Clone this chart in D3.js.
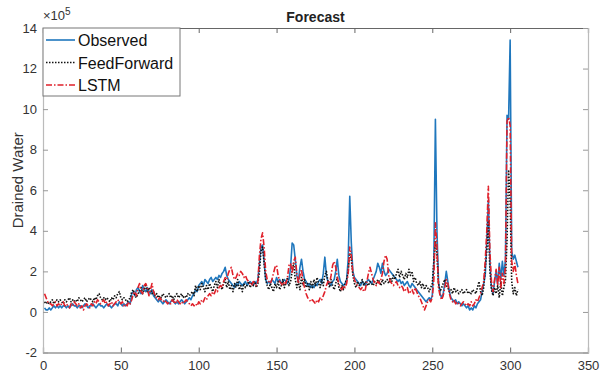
<!DOCTYPE html>
<html>
<head>
<meta charset="utf-8">
<script src="https://cdn.jsdelivr.net/npm/d3@7"></script>
<style>
  body { margin: 0; background: #fff; }
  svg { font-family: Arial, "Liberation Sans", sans-serif; }
</style>
</head>
<body>
<div id="chart"></div>
<script>
// values in units of 1e5, sample index 1..305
const observed = [
  0.2,0.1,0.1,0.2,0.1,0.2,0.3,0.2,0.3,0.2, 0.3,0.2,0.3,0.3,0.2,0.3,0.2,0.3,0.4,0.3,
  0.3,0.2,0.3,0.3,0.2,0.3,0.4,0.3,0.2,0.3, 0.3,0.4,0.3,0.2,0.3,0.4,0.3,0.3,0.2,0.3,
  0.4,0.3,0.3,0.2,0.3,0.4,0.4,0.3,0.5,0.4, 0.3,0.4,0.3,0.4,0.5,0.4,0.9,1.0,0.8,1.1,
  1.2,1.0,0.9,1.3,1.1,1.0,1.2,1.0,0.9,1.1, 0.8,0.7,0.6,0.5,0.6,0.5,0.4,0.5,0.6,0.5,
  0.4,0.5,0.6,0.5,0.4,0.5,0.4,0.5,0.6,0.5, 0.4,0.5,0.6,0.7,0.6,0.8,0.9,1.1,1.0,1.3,
  1.4,1.5,1.3,1.6,1.5,1.4,1.6,1.7,1.5,1.6, 1.7,1.6,1.8,1.7,1.9,2.0,2.2,1.8,1.6,1.5,
  1.4,1.3,1.2,1.4,1.3,1.5,1.4,1.3,1.4,1.5, 1.3,1.4,1.5,1.4,1.3,1.5,1.4,1.6,2.4,3.2,
  3.3,2.5,1.6,1.4,1.5,1.4,1.6,1.5,1.4,1.7, 1.5,1.6,1.4,1.5,1.6,1.5,1.4,1.6,2.2,3.4,
  3.3,2.6,1.8,1.5,2.2,2.6,2.0,1.6,1.5,1.3, 1.4,1.2,1.3,1.2,1.4,1.3,1.5,1.6,1.4,1.9,
  2.7,1.8,1.5,1.4,1.3,1.5,1.6,2.0,2.6,1.8, 1.5,1.4,1.3,1.4,1.6,2.6,5.7,3.4,2.0,1.7,
  1.6,1.5,1.4,1.3,1.5,1.4,1.3,1.5,1.6,1.5, 1.4,1.6,1.8,2.0,2.4,2.2,1.9,2.4,2.0,1.8,
  1.9,2.1,2.0,1.9,1.8,1.7,1.6,1.5,1.6,1.4, 1.5,1.3,1.4,1.5,1.3,1.2,1.4,1.3,1.2,1.1,
  1.0,0.9,0.8,0.7,0.6,0.5,0.6,0.7,0.6,0.8, 2.5,9.5,4.0,1.5,0.9,0.7,0.9,1.4,2.0,1.5,
  1.0,0.7,0.6,0.5,0.6,0.4,0.5,0.4,0.3,0.4, 0.3,0.2,0.3,0.1,0.2,0.1,0.3,0.2,0.4,0.5,
  0.6,1.0,1.4,1.8,3.5,5.5,2.5,1.2,0.9,1.5, 2.0,1.4,2.4,1.6,2.5,1.8,2.6,9.7,9.5,13.4,
  3.0,2.6,2.8,2.5,2.2
]
const feedForward = [
  0.5,0.4,0.5,0.4,0.5,0.6,0.4,0.5,0.6,0.5, 0.6,0.5,0.4,0.6,0.5,0.6,0.7,0.5,0.6,0.5,
  0.6,0.5,0.7,0.6,0.5,0.6,0.7,0.5,0.6,0.7, 0.6,0.5,0.7,0.6,0.8,0.9,0.7,0.6,0.7,0.6,
  0.7,0.6,0.5,0.7,0.6,0.8,0.7,0.9,1.0,0.7, 0.6,0.7,0.6,0.5,0.6,0.7,1.0,1.1,0.8,0.7,
  0.9,1.0,1.2,0.9,1.1,1.3,1.0,1.2,1.1,0.9, 1.0,0.8,0.9,0.7,0.8,0.7,0.9,0.8,0.7,0.8,
  0.9,0.7,0.8,0.6,0.8,0.9,0.7,0.8,0.9,0.7, 0.8,0.7,0.9,0.8,0.9,1.0,0.8,1.3,1.0,1.3,
  1.1,1.4,1.2,1.0,1.3,1.1,1.4,1.2,1.0,1.3, 1.5,1.2,1.6,1.3,1.1,1.4,1.6,1.2,1.5,1.1,
  1.3,1.0,1.4,1.2,1.6,1.1,1.3,1.0,1.4,1.2, 1.3,1.5,1.2,1.4,1.3,1.5,1.2,1.4,2.0,3.0,
  3.2,2.4,1.6,1.3,1.1,1.4,1.2,1.0,1.4,1.2, 1.5,1.1,1.3,1.6,1.2,1.4,1.7,1.3,1.5,2.0,
  2.4,1.6,1.2,1.5,1.1,1.7,1.3,1.6,1.2,1.4, 1.1,1.5,1.2,1.6,1.3,1.7,1.4,1.2,1.6,1.3,
  1.8,2.0,1.5,1.2,1.6,1.3,1.1,1.4,1.7,1.2, 1.0,1.3,1.1,1.4,1.6,2.0,2.9,2.6,1.8,1.4,
  1.2,1.5,1.3,1.4,1.6,1.3,1.5,1.4,1.3,1.5, 1.4,1.3,1.5,1.4,1.6,1.5,1.3,1.6,1.4,1.5,
  1.6,1.4,1.7,1.5,1.8,1.6,1.9,2.1,1.7,2.0, 1.8,1.6,1.9,1.7,2.1,1.8,2.0,1.5,1.7,1.4,
  1.3,1.5,1.2,1.4,1.1,1.3,1.2,1.0,1.2,1.4, 2.5,3.5,2.8,1.4,1.0,1.2,1.4,1.6,1.3,1.2,
  1.0,1.1,0.9,1.2,1.0,1.1,0.9,1.0,1.1,0.9, 1.0,1.1,0.9,1.0,0.9,1.1,1.0,0.9,1.2,1.5,
  1.0,0.8,1.2,2.2,3.0,4.5,2.0,1.1,0.8,1.2, 0.9,1.3,0.7,1.5,0.8,1.2,1.6,3.5,7.0,5.5,
  1.5,0.9,1.2,0.8,1.1
]
const lstm = [
  0.9,0.7,0.5,0.4,0.4,0.3,0.4,0.5,0.3,0.4, 0.3,0.4,0.5,0.3,0.4,0.3,0.2,0.4,0.3,0.5,
  0.4,0.3,0.4,0.2,0.3,0.1,0.3,0.4,0.3,0.2, 0.4,0.3,0.5,0.4,0.6,0.5,0.4,0.5,0.6,0.4,
  0.5,0.3,0.4,0.5,0.3,0.4,0.5,0.6,0.5,0.4, 0.5,0.3,0.4,0.3,0.5,0.4,0.6,0.9,1.0,0.8,
  1.2,1.4,1.0,0.9,1.3,1.4,1.2,0.8,1.1,1.4, 1.0,0.8,0.7,0.6,0.7,0.6,0.5,0.6,0.5,0.4,
  0.5,0.4,0.6,0.5,0.4,0.6,0.5,0.4,0.5,0.4, 0.5,0.6,0.5,0.4,0.3,0.4,0.3,0.4,0.3,0.5,
  0.4,0.6,0.5,0.7,0.6,0.8,0.9,0.8,1.0,0.9, 1.1,1.0,1.2,1.3,1.2,1.5,1.7,1.6,1.9,2.1,
  2.2,1.8,1.6,1.7,1.9,1.8,2.0,1.9,1.7,1.8, 1.6,1.5,1.4,1.3,1.5,1.4,1.3,1.5,2.8,3.6,
  3.9,3.2,2.0,1.6,1.5,1.4,1.6,1.9,2.2,2.3, 1.8,1.5,1.4,1.3,1.5,1.4,1.7,2.3,2.4,1.9,
  2.5,2.7,1.9,1.4,1.8,2.1,1.5,1.2,0.9,0.7, 0.6,0.5,0.6,0.5,0.4,0.6,0.5,0.7,0.6,0.8,
  1.0,1.3,1.5,1.4,1.8,2.3,2.5,2.2,1.7,1.4, 1.2,1.1,1.3,1.2,1.4,1.9,3.2,2.8,1.9,1.6,
  1.4,1.3,1.2,1.1,1.2,1.0,1.1,1.5,1.9,2.2, 1.9,1.6,1.4,1.3,1.5,1.4,1.6,1.9,2.5,2.8,
  2.6,1.8,1.5,1.4,1.3,1.4,1.5,1.3,1.2,1.3, 1.2,1.0,1.1,1.2,0.9,1.0,1.1,0.9,1.2,1.0,
  0.8,0.7,0.5,0.3,0.1,0.3,0.5,0.6,0.5,0.7, 1.6,4.4,3.2,1.2,0.8,0.6,0.8,1.2,1.6,1.4,
  0.9,0.6,0.5,0.6,0.4,0.5,0.4,0.3,0.4,0.5, 0.4,0.3,0.4,0.3,0.5,0.3,0.4,0.6,0.5,0.7,
  0.9,1.2,1.5,2.5,4.0,6.2,3.0,1.5,1.0,1.6, 2.1,1.3,2.2,1.2,1.9,1.4,2.3,9.4,9.6,9.2,
  2.5,2.0,2.4,1.8,1.4
]
const xTicks = [0, 50, 100, 150, 200, 250, 300, 350]
const yTicks = [-2, 0, 2, 4, 6, 8, 10, 12, 14]
const seriesNames = ['Observed', 'FeedForward', 'LSTM']

const W = 600, H = 378
const m = { left: 43, right: 588, top: 28, bottom: 352.5 }

const x = d3.scaleLinear().domain([0, 350]).range([m.left, m.right])
const y = d3.scaleLinear().domain([-2, 14]).range([m.bottom, m.top])

const svg = d3.select('#chart').append('svg')
  .attr('width', W).attr('height', H)

svg.append('defs').append('clipPath').attr('id', 'plot')
  .append('rect')
  .attr('x', m.left).attr('y', m.top)
  .attr('width', m.right - m.left).attr('height', m.bottom - m.top)

// axes (MATLAB style, ticks inside, box on)
const bottomAxis = svg.append('g')
  .attr('transform', `translate(0,${m.bottom})`)
  .call(d3.axisBottom(x).tickValues(xTicks).tickSize(-5).tickPadding(8))
const topAxis = svg.append('g')
  .attr('transform', `translate(0,${m.top})`)
  .call(d3.axisTop(x).tickValues(xTicks).tickSize(-5).tickFormat(''))
const leftAxis = svg.append('g')
  .attr('transform', `translate(${m.left},0)`)
  .call(d3.axisLeft(y).tickValues(yTicks).tickSize(-5).tickPadding(6))
const rightAxis = svg.append('g')
  .attr('transform', `translate(${m.right},0)`)
  .call(d3.axisRight(y).tickValues(yTicks).tickSize(-5).tickFormat(''))

;[bottomAxis, topAxis].forEach(g => {
  g.select('.domain').attr('stroke', '#666').attr('stroke-width', 1.2)
  g.selectAll('.tick line').attr('stroke', '#666')
})
;[leftAxis, rightAxis].forEach(g => {
  g.select('.domain').attr('stroke', '#bbb').attr('stroke-width', 1.2)
  g.selectAll('.tick line').attr('stroke', '#999')
})
svg.selectAll('.tick text')
  .attr('font-size', 13).attr('fill', '#333')
  .attr('font-family', 'Arial, "Liberation Sans", sans-serif')
leftAxis.selectAll('.tick text').text(d => d < 0 ? '-' + Math.abs(d) : d)

// exponent label
const expo = svg.append('text')
  .attr('x', m.left).attr('y', 20)
  .attr('font-size', 13).attr('fill', '#333')
expo.append('tspan').text('\u00d710')
expo.append('tspan').attr('dy', -5).attr('font-size', 10).text('5')

// title and y label
svg.append('text')
  .attr('x', (m.left + m.right) / 2).attr('y', 22)
  .attr('text-anchor', 'middle')
  .attr('font-size', 14).attr('font-weight', 'bold').attr('fill', '#222')
  .text('Forecast')

svg.append('text')
  .attr('transform', `translate(23,${(m.top + m.bottom) / 2 - 10}) rotate(-90)`)
  .attr('text-anchor', 'middle')
  .attr('font-size', 15).attr('fill', '#333')
  .text('Drained Water')

// lines
const line = d3.line()
  .x((d, i) => x(i + 1))
  .y(d => y(d))

const styles = [
  { data: observed, color: '#1f77bd', dash: null, width: 1.6 },
  { data: feedForward, color: '#111', dash: '1.5,1.5', width: 1.6 },
  { data: lstm, color: '#e0202a', dash: '6,2,1.5,2', width: 1.6 },
]

const plot = svg.append('g').attr('clip-path', 'url(#plot)')
styles.forEach(s => {
  plot.append('path')
    .datum(s.data)
    .attr('fill', 'none')
    .attr('stroke', s.color)
    .attr('stroke-width', s.width)
    .attr('stroke-dasharray', s.dash)
    .attr('stroke-linejoin', 'round')
    .attr('d', line)
})

// legend
const lg = svg.append('g')
lg.append('rect')
  .attr('x', m.left).attr('y', m.top)
  .attr('width', 137).attr('height', 68)
  .attr('fill', '#fff').attr('stroke', '#777').attr('stroke-width', 1)

seriesNames.forEach((name, i) => {
  const cy = m.top + 12 + i * 22.5
  lg.append('line')
    .attr('x1', m.left + 3).attr('x2', m.left + 32)
    .attr('y1', cy).attr('y2', cy)
    .attr('stroke', styles[i].color)
    .attr('stroke-width', styles[i].width)
    .attr('stroke-dasharray', styles[i].dash)
  lg.append('text')
    .attr('x', m.left + 35).attr('y', cy + 6)
    .attr('font-size', 16).attr('fill', '#111')
    .text(name)
})
</script>
</body>
</html>
